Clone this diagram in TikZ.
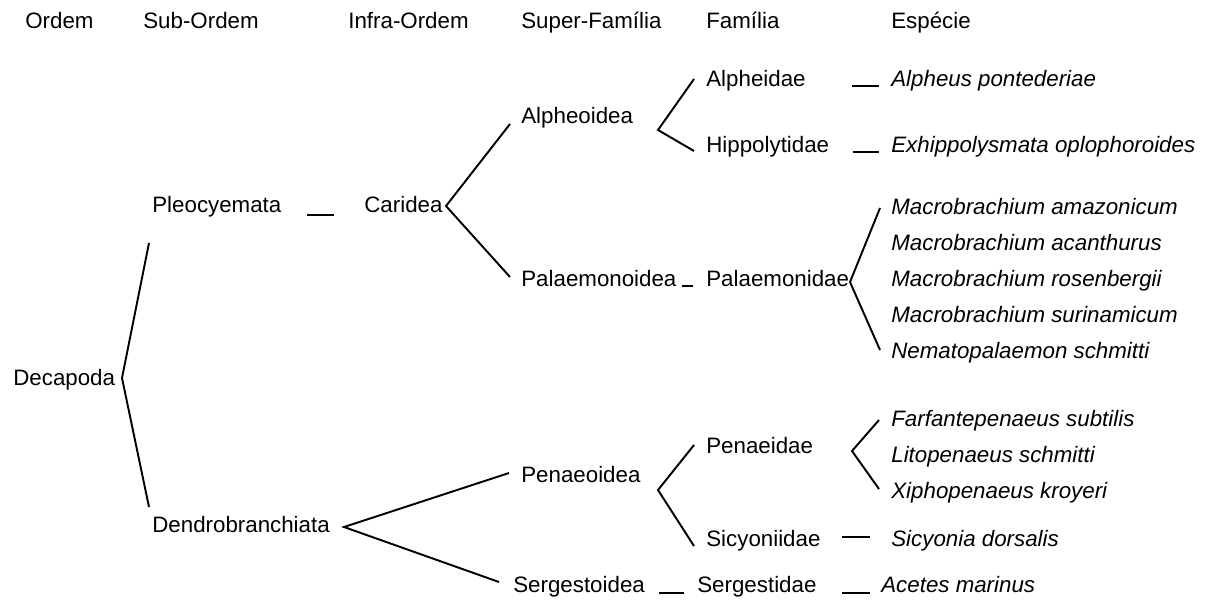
\documentclass[tikz,border=0pt]{standalone}
\usepackage{fontspec}
\setmainfont{Liberation Sans}
\begin{document}
\begin{tikzpicture}[x=0.02cm, y=-0.02cm,
        taxon/.style={anchor=base west, inner sep=0pt, font=\fontsize{12.7}{15}\selectfont},
        species/.style={taxon, font=\fontsize{12.7}{15}\selectfont\itshape},
        branch/.style={black, line width=1.1pt},
        tie/.style={black, line width=1.6pt}]
        \useasboundingbox (0,0) rectangle (1213,599);
        % column heads
        \foreach \x/\t [count=\i] in {25/Ordem, 143/Sub-Ordem, 348/Infra-Ordem, 521/Super-Família, 706/Família, 891/Espécie} {
                \node[taxon] (head\i) at (\x,28) {\t};
            }
        % taxa
        \node[taxon] (decapoda) at (13,385) {Decapoda};
        \node[taxon] (pleocyemata) at (152,212) {Pleocyemata};
        \node[taxon] (dendrobranchiata) at (152,532) {Dendrobranchiata};
        \node[taxon] (caridea) at (364,212) {Caridea};
        \node[taxon] (alpheoidea) at (521,123) {Alpheoidea};
        \node[taxon] (palaemonoidea) at (521,286) {Palaemonoidea};
        \node[taxon] (penaeoidea) at (521,482) {Penaeoidea};
        \node[taxon] (sergestoidea) at (513,592) {Sergestoidea};
        \node[taxon] (alpheidae) at (706,86) {Alpheidae};
        \node[taxon] (hippolytidae) at (706,152) {Hippolytidae};
        \node[taxon] (palaemonidae) at (706,286) {Palaemonidae};
        \node[taxon] (penaeidae) at (706,453) {Penaeidae};
        \node[taxon] (sicyoniidae) at (706,546) {Sicyoniidae};
        \node[taxon] (sergestidae) at (697,592) {Sergestidae};
        % species
        \node[species] (alpheus) at (891,86) {Alpheus pontederiae};
        \node[species] (exhippolysmata) at (891,152) {Exhippolysmata oplophoroides};
        \foreach \t [count=\i] in {Macrobrachium amazonicum, Macrobrachium acanthurus, Macrobrachium rosenbergii, Macrobrachium surinamicum, Nematopalaemon schmitti} {
                \node[species] (palaemonid\i) at (891,178+36*\i) {\t};
            }
        \foreach \t [count=\i] in {Farfantepenaeus subtilis, Litopenaeus schmitti, Xiphopenaeus kroyeri} {
                \node[species] (penaeid\i) at (891,390+36*\i) {\t};
            }
        \node[species] (sicyonia) at (891,546) {Sicyonia dorsalis};
        \node[species] (acetes) at (881,592) {Acetes marinus};
        % forks: vertex beside the parent, arm ends beside the children
        \foreach \n/\vx/\vy/\ax/\ay/\bx/\by in {decapoda/122/378/149/243/149/507, caridea/446/206/510/124/510/277, dendrobranchiata/344/527/509/473/499/582, alpheoidea/658/130/694/79/694/151, palaemonidae/850/282/880/208/880/350, penaeoidea/658/490/694/445/694/546, penaeidae/852/451/879/420/879/489} {
                \coordinate (\n-fork) at (\vx,\vy);
                \coordinate (\n-up) at (\ax,\ay);
                \coordinate (\n-down) at (\bx,\by);
                \draw[branch] (\n-up) -- (\n-fork) -- (\n-down);
            }
        % single links
        \foreach \a/\b/\l/\r/\s in {pleocyemata/caridea/25/30/3, alpheidae/alpheus/46/12/0, hippolytidae/exhippolysmata/23/12/0, palaemonoidea/palaemonidae/5/13/0, sicyoniidae/sicyonia/21/21/-9, sergestoidea/sergestidae/14/13/1, sergestidae/acetes/25/11/1} {
                \draw[tie, shorten <=\l*0.02cm, shorten >=\r*0.02cm] ([shift={(0,\s)}]\a.base east) -- ([shift={(0,\s)}]\b.base west);
            }
    \end{tikzpicture}
\end{document}
